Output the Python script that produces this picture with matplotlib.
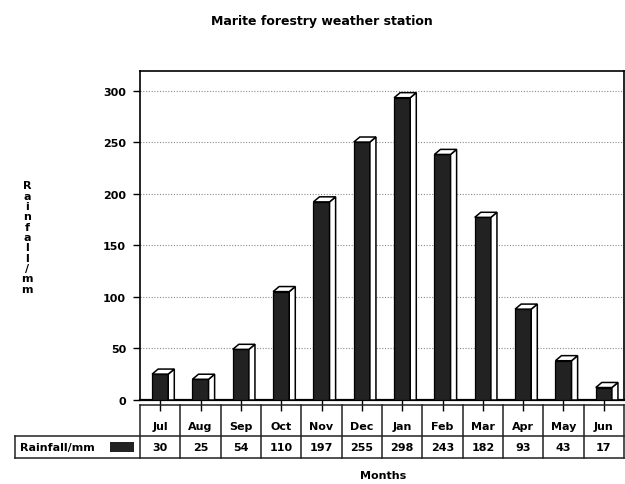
import matplotlib
matplotlib.use("Agg")
import matplotlib.pyplot as plt
from matplotlib.patches import Rectangle

months = ["Jul", "Aug", "Sep", "Oct", "Nov", "Dec", "Jan", "Feb", "Mar", "Apr", "May", "Jun"]
rainfall = [30, 25, 54, 110, 197, 255, 298, 243, 182, 93, 43, 17]
yticks = [0, 50, 100, 150, 200, 250, 300]
series_name = "Rainfall/mm"

plt.rcParams["font.family"] = ["DejaVu Sans"]
plt.rcParams["font.weight"] = "bold"

W, H = 625, 485
fig = plt.figure(figsize=(W / 100, H / 100), dpi=100)


def box(l, t, r, b):
    # pixel box -> figure fraction rect
    return [l / W, 1 - b / H, (r - l) / W, (b - t) / H]


ax = fig.add_axes(box(140, 72, 624, 401))
n = len(months)
ax.set_xlim(-0.5, n - 0.5)
ax.set_ylim(0, 319)

# dotted grid
for v in yticks[1:]:
    ax.axhline(v, color="#8a8a8a", lw=0.8, ls=(0, (1, 1.5)), zorder=1)

# pseudo-3D bars: black front, white side and top
half = 0.2
dx = 0.15
dy = 4.9
for i, v in enumerate(rainfall):
    front = v - dy
    ax.bar(i, front, width=2 * half, color="#222222", edgecolor="black",
           lw=0.9, zorder=3)
    r = i + half
    ax.fill([r, r + dx, r + dx, r], [0, 0, v, front],
            facecolor="white", edgecolor="black", lw=1.1, zorder=3)
    ax.fill([i - half, r, r + dx, i - half + dx], [front, front, v, v],
            facecolor="white", edgecolor="black", lw=1.1, zorder=3)

ax.set_yticks(yticks)
ax.set_yticklabels([str(t) for t in yticks], fontsize=8, fontweight="bold")
ax.tick_params(axis="y", direction="out", length=5, width=1.0, pad=5)
ax.set_xticks(range(n))
ax.set_xticklabels([])
ax.tick_params(axis="x", direction="out", length=8, width=1.0)
for s in ax.spines.values():
    s.set_linewidth(1.2)
ax.spines["bottom"].set_linewidth(1.6)

# data table under the plot
col_px = 484 / n
tab = fig.add_axes(box(140, 406, 624, 459))
tab.set_xlim(-0.5, n - 0.5)
tab.set_ylim(0, 53)
tab.axis("off")
lc = "#222222"
row_split = 22
left = -0.5 - (140 - 15) / col_px
for i in range(n + 1):
    tab.plot([i - 0.5, i - 0.5], [0, 53], color=lc, lw=1.1, clip_on=False)
tab.plot([-0.5, n - 0.5], [53, 53], color=lc, lw=1.1, clip_on=False)
tab.plot([left, n - 0.5], [row_split, row_split], color=lc, lw=1.1, clip_on=False)
tab.plot([left, n - 0.5], [0, 0], color=lc, lw=1.1, clip_on=False)
tab.plot([left, left], [0, row_split], color=lc, lw=1.1, clip_on=False)

for i, (m, v) in enumerate(zip(months, rainfall)):
    tab.text(i, 31.5, m, ha="center", va="center", fontsize=8, fontweight="bold")
    tab.text(i, 10.5, str(v), ha="center", va="center", fontsize=8, fontweight="bold")

tab.text(left + 5 / col_px, 10.5, series_name, ha="left", va="center",
         fontsize=8, fontweight="bold", clip_on=False)
tab.add_patch(Rectangle((-0.5 - 30 / col_px, 6.5), 24 / col_px, 10,
                        facecolor="#222222", edgecolor="none", clip_on=False))

# titles
fig.text(322 / W, 1 - 21 / H, "Marite forestry weather station",
         ha="center", va="center", fontsize=9, fontweight="bold")
fig.text(383 / W, 1 - 476 / H, "Months", ha="center", va="center",
         fontsize=8, fontweight="bold")
fig.text(27 / W, 1 - 238 / H, "\n".join(series_name), ha="center", va="center",
         fontsize=8, fontweight="bold", linespacing=1.04)

fig.savefig("out.png", dpi=100)
